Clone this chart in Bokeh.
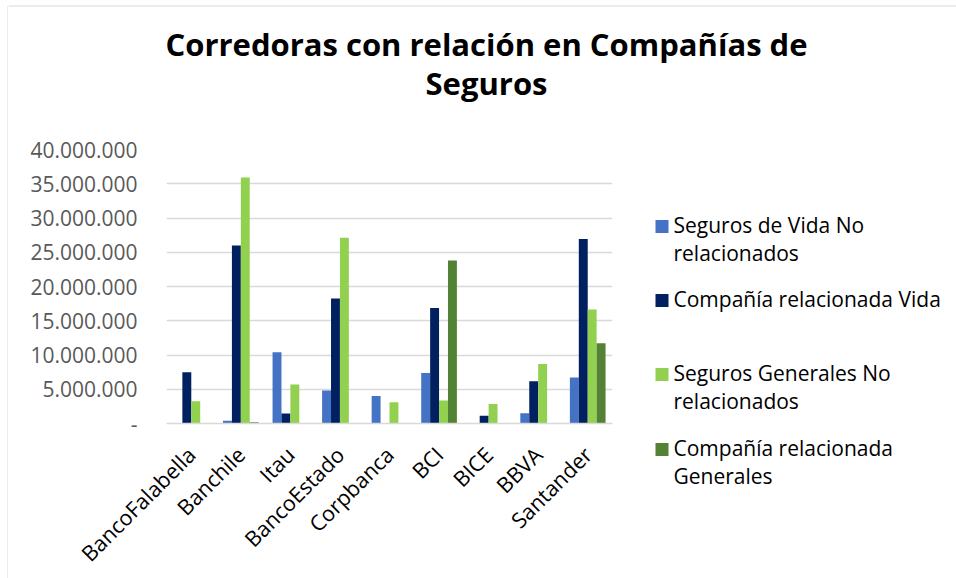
from bokeh.plotting import figure
from bokeh.models import ColumnDataSource, FactorRange, Range1d, FixedTicker
from bokeh.layouts import row, column
from bokeh.core.properties import value
from bokeh.transform import dodge
from bokeh.embed import file_html
from bokeh.resources import INLINE
import math

# ---- data ----
categories = ["BancoFalabella", "Banchile", "Itau", "BancoEstado", "Corpbanca",
              "BCI", "BICE", "BBVA", "Santander"]
vida_no_rel = [0, 390000, 10400000, 4800000, 4030000, 7380000, 0, 1500000, 6700000]
vida_rel = [7480000, 25970000, 1460000, 18250000, 0, 16850000, 1120000, 6170000, 26940000]
gen_no_rel = [3250000, 35900000, 5680000, 27100000, 3100000, 3350000, 2860000, 8690000, 16650000]
gen_rel = [0, 200000, 0, 0, 0, 23800000, 0, 0, 11700000]

series_names = ["Seguros de Vida No relacionados", "Compañía relacionada Vida",
                "Seguros Generales No relacionados", "Compañía relacionada Generales"]
legend_lines = [["Seguros de Vida No", "relacionados"],
                ["Compañía relacionada Vida"],
                ["Seguros Generales No", "relacionados"],
                ["Compañía relacionada", "Generales"]]
colors = ["#4472C4", "#002060", "#92D050", "#548235"]

y_ticks = [0, 5000000, 10000000, 15000000, 20000000, 25000000, 30000000, 35000000, 40000000]
y_tick_labels = ["-", "5.000.000", "10.000.000", "15.000.000", "20.000.000",
                 "25.000.000", "30.000.000", "35.000.000", "40.000.000"]

title_lines = ["Corredoras con relación en Compañías de", "Seguros"]

FONT = "Open Sans"
BORDER = "#d9d9d9"


def blank(width, height, xr, yr):
    f = figure(width=width, height=height, x_range=Range1d(*xr), y_range=Range1d(*yr),
               x_axis_location=None, y_axis_location=None, min_border=0,
               output_backend="svg", toolbar_location=None, title=None,
               background_fill_color="white", border_fill_color="white")
    f.grid.visible = False
    f.outline_line_color = None
    return f


# ---- left strip with chart border ----
strip = blank(8, 578, (0, 8), (578, 0))
strip.segment(x0=[7.5], y0=[5.5], x1=[7.5], y1=[578], line_color=BORDER, line_width=1)

# ---- title ----
tfig = blank(948, 130, (8, 956), (130, 0))
tfig.segment(x0=[8], y0=[5.5], x1=[956], y1=[5.5], line_color=BORDER, line_width=1)
tfig.text(x=[486, 486], y=[43, 82], text=title_lines, text_align="center",
          text_baseline="middle", text_font=value(FONT), text_font_style="bold",
          text_font_size="31px", text_color="#000000")

# ---- main chart ----
src = ColumnDataSource(dict(cat=categories, s0=vida_no_rel, s1=vida_rel, s2=gen_no_rel, s3=gen_rel))

p = figure(x_range=FactorRange(*categories), y_range=Range1d(0, 40000000),
           frame_width=446, frame_height=274,
           min_border_left=158, min_border_right=28, min_border_top=19, min_border_bottom=155,
           output_backend="svg", toolbar_location=None, title=None,
           background_fill_color="white", border_fill_color="white")
p.outline_line_color = None

offsets = [-0.27, -0.09, 0.09, 0.27]
for i, off in enumerate(offsets):
    p.vbar(x=dodge("cat", off, range=p.x_range), top="s%d" % i, width=0.18,
           source=src, fill_color=colors[i], line_color=None)

p.yaxis.ticker = FixedTicker(ticks=y_ticks)
p.yaxis.major_label_overrides = {t: l for t, l in zip(y_ticks, y_tick_labels)}
p.yaxis.axis_line_color = None
p.yaxis.major_tick_line_color = None
p.yaxis.minor_tick_line_color = None
p.yaxis.major_tick_out = 0
p.yaxis.major_tick_in = 0
p.yaxis.major_label_standoff = 29
p.yaxis.major_label_text_font = FONT
p.yaxis.major_label_text_font_size = "21px"
p.yaxis.major_label_text_color = "#595959"

p.xaxis.axis_line_color = BORDER
p.xaxis.axis_line_width = 1.5
p.xaxis.major_tick_line_color = None
p.xaxis.minor_tick_line_color = None
p.xaxis.major_tick_out = 0
p.xaxis.major_tick_in = 0
p.xaxis.major_label_orientation = math.pi / 4
p.xaxis.major_label_standoff = 27
p.xaxis.major_label_text_font = FONT
p.xaxis.major_label_text_font_size = "21.5px"
p.xaxis.major_label_text_color = "#000000"

p.xgrid.grid_line_color = None
p.ygrid.grid_line_color = BORDER
p.ygrid.grid_line_width = 1.3

# ---- legend panel (pixel coordinates of the page) ----
lfig = blank(316, 448, (640, 956), (578, 130))
item_centers = [226, 300, 374, 449]
sw_x, sw_y, tx_x, tx_y, tx_s = [], [], [], [], []
for i, lines in enumerate(legend_lines):
    sw_x.append(661.5)
    sw_y.append(item_centers[i])
    for j, line in enumerate(lines):
        tx_x.append(673)
        tx_y.append(item_centers[i] - 2 + 28.3 * j)
        tx_s.append(line)
lfig.rect(x=sw_x, y=sw_y, width=13, height=13, fill_color=colors, line_color=None)
lfig.text(x=tx_x, y=tx_y, text=tx_s, text_align="left", text_baseline="middle",
          text_font=value(FONT), text_font_size="21px", text_color="#000000")

layout = row(strip, column(tfig, row(p, column(lfig))))

open("out.html", "w").write(file_html(layout, INLINE))
